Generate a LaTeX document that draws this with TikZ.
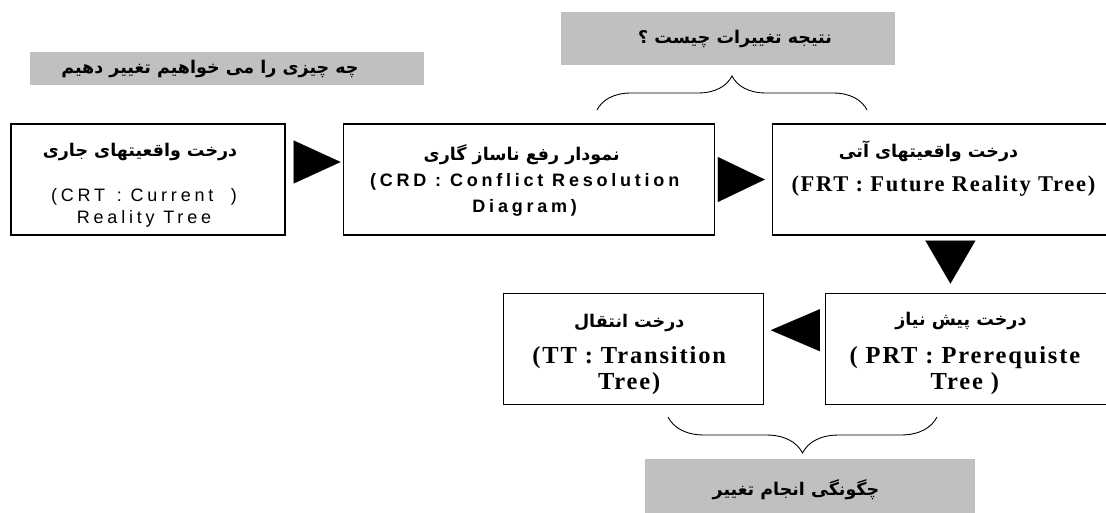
\documentclass[tikz,border=0pt]{standalone}
\usepackage{fontspec}
\usetikzlibrary{positioning, arrows.meta, decorations.pathreplacing}
\TeXXeTstate=1
\newfontfamily\fafont[Script=Arabic]{DejaVu Sans}
\newfontfamily\arialsp[LetterSpace=21]{Liberation Sans}
\newfontfamily\timessp[LetterSpace=7.5]{Liberation Serif}
\definecolor{boxgray}{RGB}{192,192,192}
\tikzset{
  treebox/.style={draw, line width=1.2pt, minimum height=111pt, inner sep=0pt},
  graybox/.style={fill=boxgray, inner sep=0pt, minimum height=#1},
  bigarrow/.style 2 args={-{Triangle[length=#1,width=#2]}, line width=0.1pt},
  curly/.style={decorate, decoration={brace, amplitude=#1, aspect=0.5}, line width=0.9pt},
  fa/.style={font=\fontsize{17.5}{20}\fafont\bfseries},
  sansline/.style={font=\fontsize{18}{22}\arialsp, align=center},
  serifline/.style={font=\fontsize{#1}{26}\timessp\bfseries, align=center},
}

\begin{document}
\begin{tikzpicture}[x=1pt,y=-1pt]
        \useasboundingbox (0,0) rectangle (1106,512);
        \clip (0,0) rectangle (1106,512);
        % the five trees
        \node[treebox, minimum width=274pt] (crt) at (148,179.5) {};
        \node[treebox, minimum width=371pt] (crd) [right=57pt of crt] {};
        \node[treebox, minimum width=356pt] (frt) [right=57pt of crd] {};
        \node[treebox, minimum width=287pt] (prt) [below=57pt of frt, xshift=18.5pt] {};
        \node[treebox, minimum width=260pt] (tt) [left=61pt of prt] {};
        % box texts
        \node[fa] (crtfa) at ([yshift=-29pt, xshift=-8pt]crt.north) {\beginR درخت واقعیتهای جاری\endR};
        \node[sansline] (crten) at ([yshift=-84pt, xshift=-4pt]crt.north) {(CRT \,: Current \ )\\Reality Tree};
        \node[fa] (crdfa) at ([yshift=-31pt, xshift=-7pt]crd.north) {\beginR نمودار رفع ناساز گاری\endR};
        \node[sansline, font=\fontsize{18}{26}\arialsp\bfseries] (crden) at ([yshift=-71pt, xshift=-4pt]crd.north) {(CRD : Conflict Resolution\\Diagram)};
        \node[fa] (frtfa) at ([yshift=-28pt, xshift=-22pt]frt.north) {\beginR درخت واقعیتهای آتی\endR};
        \node[serifline=22.5] (frten) at ([yshift=-63pt, xshift=-7pt]frt.north) {(FRT : Future Reality Tree)};
        \node[fa] (ttfa) at ([yshift=-30pt, xshift=-4pt]tt.north) {\beginR درخت انتقال\endR};
        \node[serifline=24.5] (tten) at ([yshift=-78pt, xshift=-4pt]tt.north) {(TT : Transition\\Tree)};
        \node[fa] (prtfa) at ([yshift=-28pt, xshift=-8pt]prt.north) {\beginR درخت پیش نیاز\endR};
        \node[serifline=24.5] (prten) at ([yshift=-78pt, xshift=-4pt]prt.north) {( PRT : Prerequiste\\Tree )};
        % arrows
        \draw[bigarrow={47pt}{43pt}, shorten <=10pt, shorten >=2pt] ([yshift=17.5pt]crt.east) -- ([yshift=17.5pt]crd.west);
        \draw[bigarrow={47pt}{45pt}, shorten <=5pt, shorten >=7pt] (crd.east) -- (frt.west);
        \draw[bigarrow={43pt}{50pt}, shorten <=7pt, shorten >=9pt] (frt.south) -- (frt.south |- prt.north);
        \draw[bigarrow={49pt}{42pt}, shorten <=7pt, shorten >=7pt] ([yshift=18.5pt]prt.west) -- ([yshift=18.5pt]tt.east);
        % questions
        \node[graybox=33pt, minimum width=394pt, fa] (askwhat) at (227,68.5) {\beginR چه چیزی را می خواهیم تغییر دهیم\endR\kern34pt};
        \node[graybox=53pt, minimum width=334pt, fa] (askresult) at (728,38.5) {\hspace{14pt}\beginR نتیجه تغییرات چیست ؟\endR};
        \node[graybox=62pt, minimum width=330pt, fa] (askhow) at (810,490) {\beginR چگونگی انجام تغییر\endR\kern28pt};
        % braces
        \coordinate (topl) at (597,110);
        \coordinate (topr) at (867,110);
        \coordinate (botl) at (668,417);
        \coordinate (botr) at (937,417);
        \draw[curly=34pt] (topl) -- (topr);
        \draw[curly=36pt] (botr) -- (botl);
    \end{tikzpicture}
\end{document}
